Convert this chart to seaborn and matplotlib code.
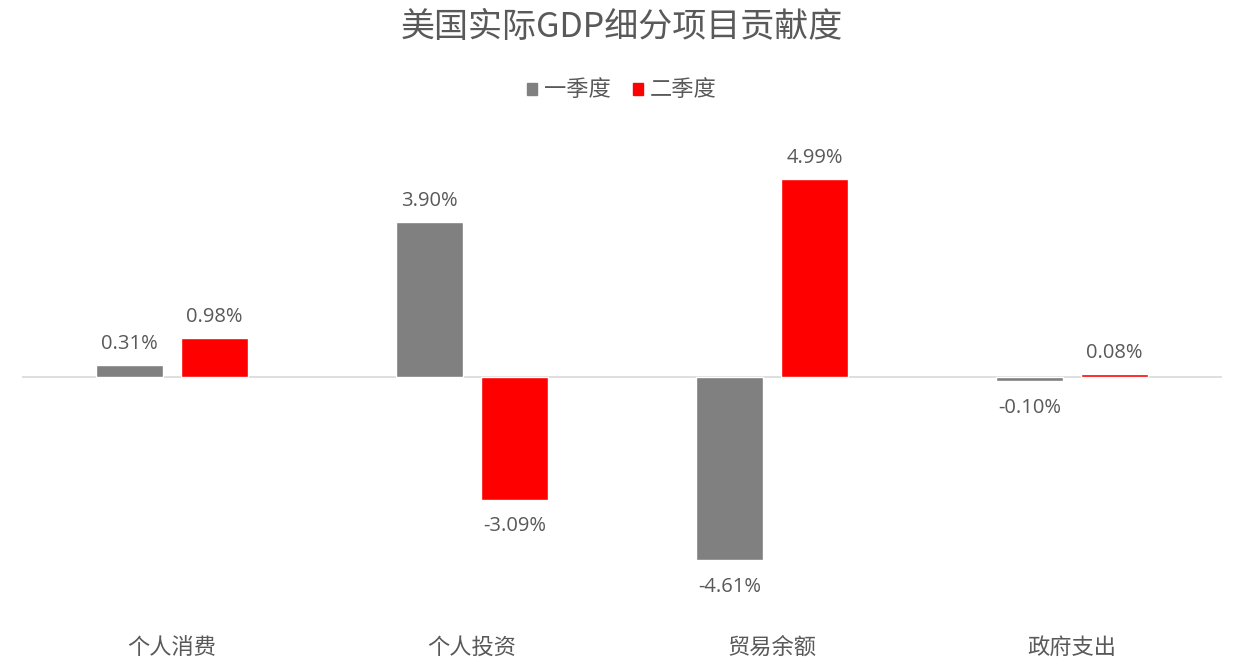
import pandas as pd
import matplotlib
matplotlib.use("Agg")
import matplotlib.pyplot as plt
import seaborn as sns
from matplotlib.patches import Patch

# data
categories = ["个人消费", "个人投资", "贸易余额", "政府支出"]
quarters = ["一季度", "二季度"]
q1_values = [0.31, 3.90, -4.61, -0.10]
q2_values = [0.98, -3.09, 4.99, 0.08]
bar_colors = ["#808080", "#FF0000"]

df = pd.DataFrame({
    "item": categories * 2,
    "quarter": [quarters[0]] * 4 + [quarters[1]] * 4,
    "value": q1_values + q2_values,
})

sns.set_theme(style="white")
plt.rcParams["font.family"] = ["Noto Sans CJK SC", "DejaVu Sans"]
plt.rcParams["axes.unicode_minus"] = False

fig = plt.figure(figsize=(12.43, 6.61), dpi=100)
ax = fig.add_axes([22 / 1243, (661 - 625) / 661, 1200 / 1243, (625 - 140) / 661])

sns.barplot(data=df, x="item", y="value", hue="quarter", order=categories,
            hue_order=quarters, palette=bar_colors, width=0.567, gap=0.21,
            saturation=1, legend=False, ax=ax)

ax.set_ylim(-6.25, 5.97)
ax.set_xlim(-0.5, 3.5)
ax.axhline(0, color="#D9D9D9", lw=1.2, zorder=0)
for s in ax.spines.values():
    s.set_visible(False)
ax.set_yticks([])
ax.set_xlabel("")
ax.set_ylabel("")
ax.tick_params(axis="x", length=0, pad=8, labelsize=16, labelcolor="#595959")

# value labels: above positive bars, below negative ones
for cont in ax.containers:
    for bar in cont:
        h = bar.get_height()
        x = bar.get_x() + bar.get_width() / 2
        off, va = (8, "bottom") if h >= 0 else (-12, "top")
        ax.annotate(f"{h:.2f}%", (x, h), xytext=(0, off), textcoords="offset points",
                    ha="center", va=va, fontsize=14.5, color="#595959",
                    family=["Open Sans", "DejaVu Sans"])

fig.text(0.5, 1 - 27 / 661, "美国实际GDP细分项目贡献度", ha="center", va="center",
         fontsize=24.5, color="#595959")

handles = [Patch(color=c, label=q) for c, q in zip(bar_colors, quarters)]
fig.legend(handles=handles, loc="center", bbox_to_anchor=(0.5, 1 - 90 / 661), ncol=2,
           frameon=False, fontsize=16, handlelength=0.45, handleheight=0.45,
           handletextpad=0.3, columnspacing=1.0, labelcolor="#595959")

fig.savefig("out.png", dpi=100)
